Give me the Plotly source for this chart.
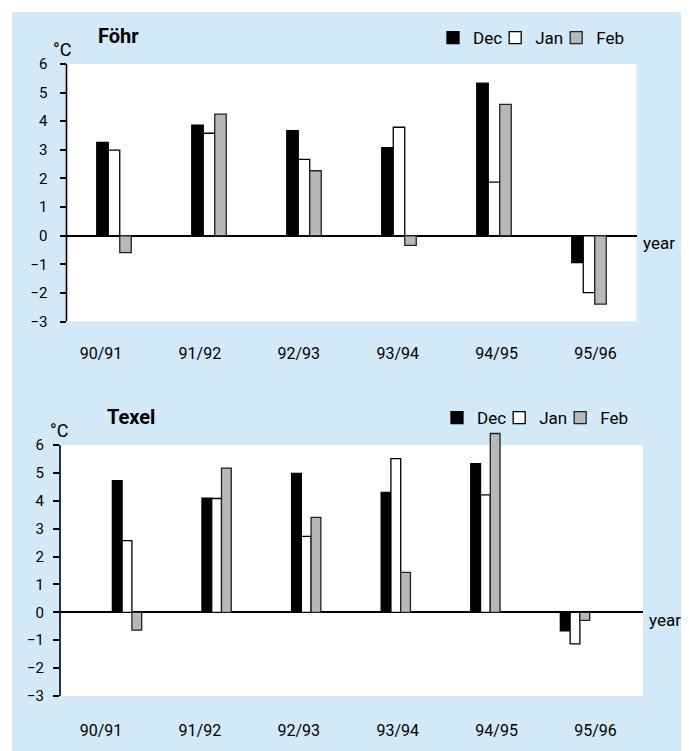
import plotly.graph_objects as go

# ---------------- data ----------------
seasons = ["90/91", "91/92", "92/93", "93/94", "94/95", "95/96"]
months = ["Dec", "Jan", "Feb"]
yticks = [-3, -2, -1, 0, 1, 2, 3, 4, 5, 6]

foehr_dec = [3.26, 3.86, 3.67, 3.08, 5.33, -0.94]
foehr_jan = [2.99, 3.58, 2.67, 3.79, 1.87, -1.99]
foehr_feb = [-0.59, 4.25, 2.27, -0.34, 4.59, -2.39]

texel_dec = [4.72, 4.09, 4.98, 4.30, 5.33, -0.66]
texel_jan = [2.57, 4.08, 2.72, 5.51, 4.21, -1.13]
texel_feb = [-0.64, 5.17, 3.40, 1.43, 6.41, -0.29]

# ---------------- styling ----------------
PAGE_W, PAGE_H = 689, 751
OFF = 8                      # default body margin of the html page
W, H = PAGE_W - OFF, PAGE_H - OFF
FONT = "Roboto, Lato, 'Open Sans', sans-serif"
BLUE = "#d3e9f8"
fills = {"Dec": "#000000", "Jan": "#ffffff", "Feb": "#b8b8b8"}
edges = {"Dec": "#000000", "Jan": "#000000", "Feb": "#222222"}


def fx(px):
    return (px - OFF) / W


def fy(py):
    return 1 - (py - OFF) / H


fig = go.Figure()
idx = list(range(len(seasons)))

panels = [
    dict(vals=[foehr_dec, foehr_jan, foehr_feb], xa="x", ya="y", legend="legend", w=0.121),
    dict(vals=[texel_dec, texel_jan, texel_feb], xa="x2", ya="y2", legend="legend2", w=0.109),
]
for p in panels:
    w = p["w"]
    for k, (m, v) in enumerate(zip(months, p["vals"])):
        fig.add_trace(go.Bar(
            x=idx, y=v, name=m, width=w, offset=(k - 1.5) * w,
            marker=dict(color=fills[m], line=dict(color=edges[m], width=1.3)),
            xaxis=p["xa"], yaxis=p["ya"], legend=p["legend"], hoverinfo="skip",
        ))

# invisible helper traces that carry the season label axes
for xa, ya in (("x3", "y3"), ("x4", "y4")):
    fig.add_trace(go.Scatter(x=idx, y=[0] * len(idx), mode="markers",
                             marker=dict(opacity=0), xaxis=xa, yaxis=ya,
                             showlegend=False, hoverinfo="skip"))

top_y = [fy(321.6), fy(64)]
bot_y = [fy(696), fy(431)]

yax_common = dict(tickvals=yticks, ticks="outside", ticklen=6, tickwidth=1.5,
                  tickcolor="black", showgrid=False, zeroline=True,
                  zerolinecolor="black", zerolinewidth=1.5, showline=False,
                  tickfont=dict(family=FONT, size=15, color="black"),
                  fixedrange=True)

legend_common = dict(orientation="h", xanchor="left", yanchor="middle",
                     bgcolor="rgba(0,0,0,0)", font=dict(family=FONT, size=17),
                     indentation=-12, itemclick=False, itemdoubleclick=False)

fig.update_layout(
    width=W, height=H,
    margin=dict(l=0, r=0, t=0, b=0, autoexpand=False),
    paper_bgcolor="white", plot_bgcolor="rgba(0,0,0,0)",
    barmode="overlay",
    font=dict(family=FONT, size=16, color="black"),
    xaxis=dict(domain=[fx(66.5), fx(636.5)], range=[-0.5, 5.5], anchor="y",
               showticklabels=False, ticks="", showgrid=False, zeroline=False),
    yaxis=dict(domain=top_y, range=[-3, 6], anchor="x", ticklabelstandoff=9, **yax_common),
    xaxis2=dict(domain=[fx(60), fx(643)], range=[-0.748, 5.759], anchor="y2",
                showticklabels=False, ticks="", showgrid=False, zeroline=False),
    yaxis2=dict(domain=bot_y, range=[-3, 6.5], anchor="x2", ticklabelstandoff=6, **yax_common),
    xaxis3=dict(domain=[fx(51.5), fx(645)], range=[-0.5, 5.5], anchor="free",
                position=fy(342), tickvals=idx, ticktext=seasons, ticks="",
                showgrid=False, zeroline=False, showline=False,
                tickfont=dict(family=FONT, size=16, color="black")),
    yaxis3=dict(domain=top_y, range=[-3, 6], anchor="x3", visible=False),
    xaxis4=dict(domain=[fx(51.5), fx(645)], range=[-0.5, 5.5], anchor="free",
                position=fy(719), tickvals=idx, ticktext=seasons, ticks="",
                showgrid=False, zeroline=False, showline=False,
                tickfont=dict(family=FONT, size=16, color="black")),
    yaxis4=dict(domain=bot_y, range=[-3, 6.5], anchor="x4", visible=False),
    legend=dict(x=fx(445), y=fy(38), **legend_common),
    legend2=dict(x=fx(449), y=fy(418), **legend_common),
    showlegend=True,
)

shapes = [
    dict(type="rect", xref="paper", yref="paper", x0=fx(12), x1=1, y0=0, y1=fy(12),
         fillcolor=BLUE, line=dict(width=0), layer="below"),
    dict(type="rect", xref="x domain", yref="y", x0=0, x1=1, y0=-3, y1=6,
         fillcolor="white", line=dict(width=0), layer="below"),
    dict(type="rect", xref="x2 domain", yref="y2", x0=0, x1=1, y0=-3, y1=6,
         fillcolor="white", line=dict(width=0), layer="below"),
    dict(type="line", xref="x domain", yref="y", x0=0, x1=0, y0=-3, y1=6,
         line=dict(color="black", width=1.6)),
    dict(type="line", xref="x2 domain", yref="y2", x0=0, x1=0, y0=-3, y1=6,
         line=dict(color="black", width=1.6)),
]
fig.update_layout(shapes=shapes)

ann = [
    dict(text="Föhr", x=fx(96), y=fy(50), xanchor="left", yanchor="bottom",
         font=dict(size=20, weight="bold")),
    dict(text="Texel", x=fx(105), y=fy(431), xanchor="left", yanchor="bottom",
         font=dict(size=20, weight="bold")),
    dict(text="°C", x=fx(51), y=fy(49), xanchor="left", yanchor="middle",
         font=dict(size=18)),
    dict(text="°C", x=fx(48), y=fy(430), xanchor="left", yanchor="middle",
         font=dict(size=18)),
    dict(text="year", x=fx(641), y=fy(243), xanchor="left", yanchor="middle",
         font=dict(size=17)),
    dict(text="year", x=fx(647), y=fy(620), xanchor="left", yanchor="middle",
         font=dict(size=17)),
]
for a in ann:
    a.update(xref="paper", yref="paper", showarrow=False)
    a["font"] = dict(family=FONT, color="black", **a["font"])
fig.update_layout(annotations=ann)

fig.write_html("out.html")
